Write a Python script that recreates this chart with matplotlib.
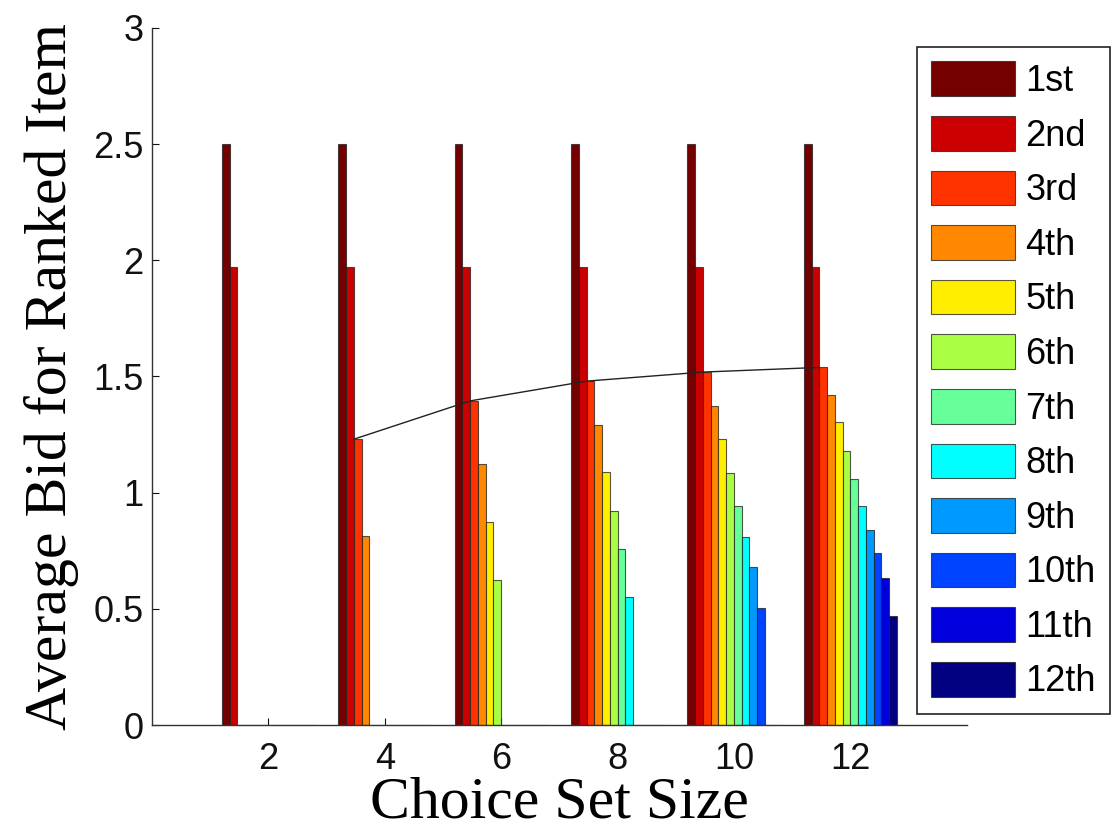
import numpy as np
import matplotlib
matplotlib.use("Agg")
import matplotlib.pyplot as plt

# Choice set sizes (one bar group each) and rank labels
set_sizes = [2, 4, 6, 8, 10, 12]
rank_labels = ["1st", "2nd", "3rd", "4th", "5th", "6th",
               "7th", "8th", "9th", "10th", "11th", "12th"]

# Average bid per ranked item, one list per choice set size
bids_2 = [2.50, 1.97]
bids_4 = [2.50, 1.97, 1.23, 0.815]
bids_6 = [2.50, 1.97, 1.395, 1.125, 0.874, 0.622]
bids_8 = [2.50, 1.97, 1.48, 1.292, 1.089, 0.921, 0.756, 0.552]
bids_10 = [2.50, 1.97, 1.519, 1.375, 1.229, 1.085, 0.943, 0.811, 0.681, 0.503]
bids_12 = [2.50, 1.97, 1.539, 1.421, 1.302, 1.18, 1.06, 0.943, 0.839, 0.74,
           0.631, 0.47]

# Trend line through the 3rd-ranked item
trend_sizes = [4, 6, 8, 10, 12]
trend_bids = [1.23, 1.395, 1.48, 1.519, 1.539]

# Rank colours, dark red (1st) through dark blue (12th)
rank_colors = ["#740000", "#CC0000", "#FF3300", "#FF8800", "#FFEE00",
               "#AAFF44", "#66FF99", "#00FFFF", "#0099FF", "#0044FF",
               "#0000DD", "#000080"]

all_bids = [bids_2, bids_4, bids_6, bids_8, bids_10, bids_12]
n_ranks = len(rank_labels)
table = np.zeros((len(set_sizes), n_ranks))
for gi, vals in enumerate(all_bids):
    table[gi, :len(vals)] = vals

fig = plt.figure(figsize=(11.13, 8.3), dpi=100)
ax = fig.add_axes([0.1366, 0.1265, 0.732, 0.8398])

x = np.array(set_sizes, dtype=float)
group_w = 0.8 * 2.0
bar_w = group_w / n_ranks
handles = []
for r in range(n_ranks):
    offs = -group_w / 2 + (r + 0.5) * bar_w
    h = ax.bar(x + offs, table[:, r], width=bar_w, color=rank_colors[r],
               edgecolor=(0.12, 0.12, 0.12, 0.75), linewidth=0.8, zorder=2)
    handles.append(h)

# line meets the left edge of the 3rd bar in each group
line_x = np.array(trend_sizes, dtype=float) - group_w / 2 + 2 * bar_w
ax.plot(line_x, trend_bids, color="#222222", lw=1.0, zorder=3)

ax.set_xlim(0, 14)
ax.set_ylim(0, 3)
ax.set_xticks(set_sizes)
ax.set_xticklabels([str(s) for s in set_sizes])
ax.set_yticks([0, 0.5, 1, 1.5, 2, 2.5, 3])
ax.set_yticklabels(["0", "0.5", "1", "1.5", "2", "2.5", "3"])
ax.set_axisbelow(True)

for s in ["top", "right"]:
    ax.spines[s].set_visible(False)
for s in ["left", "bottom"]:
    ax.spines[s].set_linewidth(1.0)
    ax.spines[s].set_color("#333333")

ax.tick_params(axis="both", direction="in", length=5, width=0.8,
               labelsize=26, colors="#111111")
ax.tick_params(axis="x", pad=12)
ax.tick_params(axis="y", pad=6)
for lab in ax.get_xticklabels() + ax.get_yticklabels():
    lab.set_fontfamily("Liberation Sans")

ax.set_xlabel("Choice Set Size", fontfamily="Liberation Serif",
              fontsize=43, labelpad=0)
ax.set_ylabel("Average Bid for Ranked Item", fontfamily="Liberation Serif",
              fontsize=43, labelpad=10)

leg = fig.legend(handles, rank_labels, loc="upper left",
                 bbox_to_anchor=(917 / 1113, 1 - 47 / 830),
                 bbox_transform=fig.transFigure,
                 prop={"family": "Liberation Sans", "size": 26},
                 handlelength=2.3, handleheight=1.1, labelspacing=0.47,
                 handletextpad=0.3, borderpad=0.4, borderaxespad=0,
                 fancybox=False, framealpha=1, edgecolor="#222222")
leg.get_frame().set_linewidth(1.2)
leg.set_zorder(10)

fig.savefig("out.png", dpi=100, facecolor="white")
